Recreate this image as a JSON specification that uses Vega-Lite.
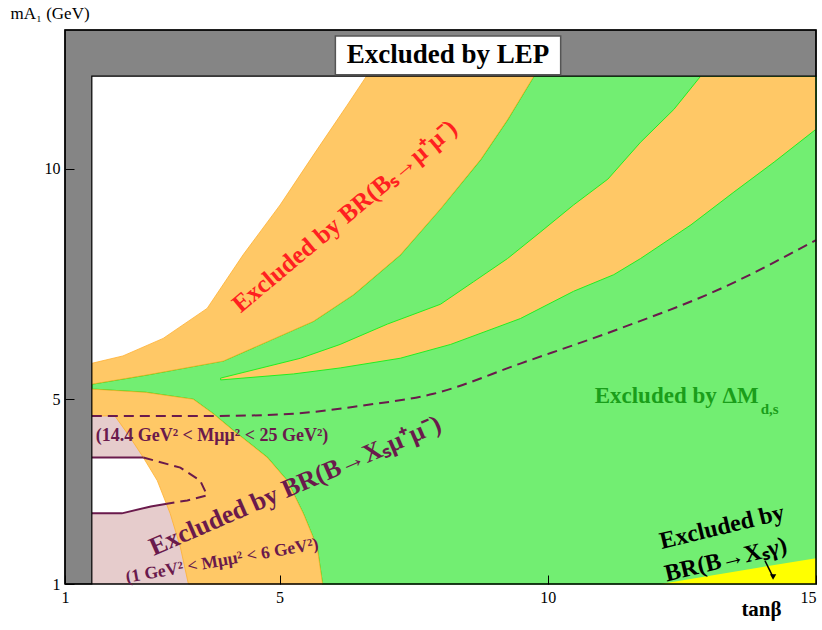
{
  "$schema": "https://vega.github.io/schema/vega-lite/v6.json",
  "width": 751,
  "height": 554,
  "autosize": {"type": "none"},
  "padding": {"left": 65, "top": 30, "right": 6, "bottom": 46},
  "background": "white",
  "datasets": {
    "poly": [
      {"r": "green", "i": 0, "x": 1.5, "y": 5.33},
      {"r": "green", "i": 1, "x": 2.53, "y": 5.53},
      {"r": "green", "i": 2, "x": 3.95, "y": 5.83},
      {"r": "green", "i": 3, "x": 5.63, "y": 6.69},
      {"r": "green", "i": 4, "x": 6.38, "y": 7.27},
      {"r": "green", "i": 5, "x": 7.25, "y": 8.13},
      {"r": "green", "i": 6, "x": 8.0, "y": 9.13},
      {"r": "green", "i": 7, "x": 8.75, "y": 10.2},
      {"r": "green", "i": 8, "x": 9.25, "y": 11.06},
      {"r": "green", "i": 9, "x": 9.74, "y": 12},
      {"r": "green", "i": 10, "x": 15, "y": 12},
      {"r": "green", "i": 11, "x": 15, "y": 1},
      {"r": "green", "i": 12, "x": 5.8, "y": 1},
      {"r": "green", "i": 13, "x": 5.7, "y": 1.8},
      {"r": "green", "i": 14, "x": 5.44, "y": 2.53},
      {"r": "green", "i": 15, "x": 5.14, "y": 3.24},
      {"r": "green", "i": 16, "x": 4.77, "y": 3.74},
      {"r": "green", "i": 17, "x": 4.14, "y": 4.32},
      {"r": "green", "i": 18, "x": 3.76, "y": 4.69},
      {"r": "green", "i": 19, "x": 3.39, "y": 5.0},
      {"r": "green", "i": 20, "x": 2.5, "y": 5.15},
      {"r": "green", "i": 21, "x": 1.5, "y": 5.22},
      {"r": "green", "i": 22, "x": 1.5, "y": 5.33},

      {"r": "pink", "i": 0, "x": 1.5, "y": 1},
      {"r": "pink", "i": 1, "x": 3.4, "y": 1},
      {"r": "pink", "i": 2, "x": 3.4, "y": 4.64},
      {"r": "pink", "i": 3, "x": 1.5, "y": 4.64},
      {"r": "pink", "i": 4, "x": 1.5, "y": 1},

      {"r": "hole", "i": 0, "x": 1.5, "y": 3.74},
      {"r": "hole", "i": 1, "x": 2.6, "y": 3.74},
      {"r": "hole", "i": 2, "x": 2.9, "y": 2.74},
      {"r": "hole", "i": 3, "x": 2.6, "y": 2.68},
      {"r": "hole", "i": 4, "x": 2.06, "y": 2.53},
      {"r": "hole", "i": 5, "x": 1.5, "y": 2.53},
      {"r": "hole", "i": 6, "x": 1.5, "y": 3.74},

      {"r": "orange3", "i": 0, "x": 1.5, "y": 5.22},
      {"r": "orange3", "i": 1, "x": 2.5, "y": 5.15},
      {"r": "orange3", "i": 2, "x": 3.39, "y": 5.0},
      {"r": "orange3", "i": 3, "x": 3.76, "y": 4.69},
      {"r": "orange3", "i": 4, "x": 4.14, "y": 4.32},
      {"r": "orange3", "i": 5, "x": 4.77, "y": 3.74},
      {"r": "orange3", "i": 6, "x": 5.14, "y": 3.24},
      {"r": "orange3", "i": 7, "x": 5.44, "y": 2.53},
      {"r": "orange3", "i": 8, "x": 5.7, "y": 1.8},
      {"r": "orange3", "i": 9, "x": 5.8, "y": 1},
      {"r": "orange3", "i": 10, "x": 3.3, "y": 1},
      {"r": "orange3", "i": 11, "x": 3.15, "y": 1.8},
      {"r": "orange3", "i": 12, "x": 2.96, "y": 2.53},
      {"r": "orange3", "i": 13, "x": 2.72, "y": 3.24},
      {"r": "orange3", "i": 14, "x": 2.46, "y": 3.74},
      {"r": "orange3", "i": 15, "x": 2.2, "y": 4.2},
      {"r": "orange3", "i": 16, "x": 1.93, "y": 4.64},
      {"r": "orange3", "i": 17, "x": 1.5, "y": 4.64},
      {"r": "orange3", "i": 18, "x": 1.5, "y": 5.22},

      {"r": "orange1", "i": 0, "x": 1.5, "y": 5.78},
      {"r": "orange1", "i": 1, "x": 2.08, "y": 5.94},
      {"r": "orange1", "i": 2, "x": 2.83, "y": 6.32},
      {"r": "orange1", "i": 3, "x": 3.65, "y": 6.97},
      {"r": "orange1", "i": 4, "x": 4.32, "y": 8.13},
      {"r": "orange1", "i": 5, "x": 5.01, "y": 9.21},
      {"r": "orange1", "i": 6, "x": 5.63, "y": 10.29},
      {"r": "orange1", "i": 7, "x": 6.26, "y": 11.37},
      {"r": "orange1", "i": 8, "x": 6.62, "y": 12},
      {"r": "orange1", "i": 9, "x": 9.74, "y": 12},
      {"r": "orange1", "i": 10, "x": 9.25, "y": 11.06},
      {"r": "orange1", "i": 11, "x": 8.75, "y": 10.2},
      {"r": "orange1", "i": 12, "x": 8.0, "y": 9.13},
      {"r": "orange1", "i": 13, "x": 7.25, "y": 8.13},
      {"r": "orange1", "i": 14, "x": 6.38, "y": 7.27},
      {"r": "orange1", "i": 15, "x": 5.63, "y": 6.69},
      {"r": "orange1", "i": 16, "x": 3.95, "y": 5.83},
      {"r": "orange1", "i": 17, "x": 2.53, "y": 5.53},
      {"r": "orange1", "i": 18, "x": 1.5, "y": 5.33},
      {"r": "orange1", "i": 19, "x": 1.5, "y": 5.78},

      {"r": "orange2", "i": 0, "x": 3.9, "y": 5.46},
      {"r": "orange2", "i": 1, "x": 5.39, "y": 5.89},
      {"r": "orange2", "i": 2, "x": 6.13, "y": 6.19},
      {"r": "orange2", "i": 3, "x": 7.01, "y": 6.63},
      {"r": "orange2", "i": 4, "x": 8.0, "y": 7.06},
      {"r": "orange2", "i": 5, "x": 8.62, "y": 7.55},
      {"r": "orange2", "i": 6, "x": 9.25, "y": 8.05},
      {"r": "orange2", "i": 7, "x": 9.87, "y": 8.63},
      {"r": "orange2", "i": 8, "x": 10.48, "y": 9.21},
      {"r": "orange2", "i": 9, "x": 11.12, "y": 9.77},
      {"r": "orange2", "i": 10, "x": 11.73, "y": 10.57},
      {"r": "orange2", "i": 11, "x": 12.35, "y": 11.28},
      {"r": "orange2", "i": 12, "x": 12.85, "y": 12},
      {"r": "orange2", "i": 13, "x": 15, "y": 12},
      {"r": "orange2", "i": 14, "x": 15, "y": 10.85},
      {"r": "orange2", "i": 15, "x": 14.22, "y": 10.14},
      {"r": "orange2", "i": 16, "x": 13.47, "y": 9.49},
      {"r": "orange2", "i": 17, "x": 12.67, "y": 8.78},
      {"r": "orange2", "i": 18, "x": 11.73, "y": 8.05},
      {"r": "orange2", "i": 19, "x": 11.23, "y": 7.7},
      {"r": "orange2", "i": 20, "x": 10.48, "y": 7.34},
      {"r": "orange2", "i": 21, "x": 9.49, "y": 6.75},
      {"r": "orange2", "i": 22, "x": 8.19, "y": 6.19},
      {"r": "orange2", "i": 23, "x": 7.25, "y": 5.89},
      {"r": "orange2", "i": 24, "x": 6.13, "y": 5.68},
      {"r": "orange2", "i": 25, "x": 5.26, "y": 5.55},
      {"r": "orange2", "i": 26, "x": 3.9, "y": 5.42},
      {"r": "orange2", "i": 27, "x": 3.9, "y": 5.46},

      {"r": "yellow", "i": 0, "x": 12.1, "y": 1},
      {"r": "yellow", "i": 1, "x": 15, "y": 1},
      {"r": "yellow", "i": 2, "x": 15, "y": 1.56},
      {"r": "yellow", "i": 3, "x": 12.1, "y": 1},

      {"r": "lep", "i": 0, "x": 1, "y": 1},
      {"r": "lep", "i": 1, "x": 1, "y": 13},
      {"r": "lep", "i": 2, "x": 15, "y": 13},
      {"r": "lep", "i": 3, "x": 15, "y": 12},
      {"r": "lep", "i": 4, "x": 1.5, "y": 12},
      {"r": "lep", "i": 5, "x": 1.5, "y": 1},
      {"r": "lep", "i": 6, "x": 1, "y": 1}
    ],
    "lines": [
      {"r": "dash", "i": 0, "x": 1.5, "y": 4.64},
      {"r": "dash", "i": 1, "x": 3.8, "y": 4.64},
      {"r": "dash", "i": 2, "x": 5.26, "y": 4.69},
      {"r": "dash", "i": 3, "x": 6.51, "y": 4.86},
      {"r": "dash", "i": 4, "x": 7.87, "y": 5.12},
      {"r": "dash", "i": 5, "x": 9.5, "y": 5.78},
      {"r": "dash", "i": 6, "x": 11.36, "y": 6.54},
      {"r": "dash", "i": 7, "x": 13.23, "y": 7.4},
      {"r": "dash", "i": 8, "x": 15, "y": 8.45},

      {"r": "holedash", "i": 0, "x": 2.46, "y": 3.74},
      {"r": "holedash", "i": 1, "x": 3.15, "y": 3.52},
      {"r": "holedash", "i": 2, "x": 3.52, "y": 3.24},
      {"r": "holedash", "i": 3, "x": 3.65, "y": 2.92},
      {"r": "holedash", "i": 4, "x": 3.28, "y": 2.81},
      {"r": "holedash", "i": 5, "x": 2.9, "y": 2.74},

      {"r": "holetop", "i": 0, "x": 1.5, "y": 3.74},
      {"r": "holetop", "i": 1, "x": 2.46, "y": 3.74},

      {"r": "holebot", "i": 0, "x": 2.9, "y": 2.74},
      {"r": "holebot", "i": 1, "x": 2.6, "y": 2.68},
      {"r": "holebot", "i": 2, "x": 2.06, "y": 2.53},
      {"r": "holebot", "i": 3, "x": 1.5, "y": 2.53},

      {"r": "arrow", "i": 0, "x": 14.05, "y": 1.5},
      {"r": "arrow", "i": 1, "x": 14.2, "y": 1.15}
    ]
  },
  "encoding": {
    "x": {
      "field": "x", "type": "quantitative",
      "scale": {"domain": [1, 15], "nice": false, "zero": false},
      "axis": {
        "values": [1, 5, 10, 15], "grid": false, "domain": false, "zindex": 1,
        "labelFlush": false, "labelFont": "Liberation Serif", "labelFontSize": 16,
        "labelAlign": {"expr": "datum.value == 15 ? 'right' : 'center'"},
        "labelColor": "black", "tickColor": "black", "tickSize": -9, "labelPadding": 14,
        "title": "tanβ", "titleFont": "Liberation Serif", "titleFontSize": 21,
        "titleFontWeight": "bold", "titleColor": "black",
        "titleX": 696, "titleY": 31, "titleBaseline": "alphabetic"
      }
    },
    "y": {
      "field": "y", "type": "quantitative",
      "scale": {"domain": [1, 13], "nice": false, "zero": false},
      "axis": {
        "values": [1, 5, 10], "grid": false, "domain": false, "zindex": 1,
        "labelFont": "Liberation Serif", "labelFontSize": 16,
        "labelColor": "black", "tickColor": "black", "tickSize": -9, "labelPadding": 14,
        "title": "mA₁ (GeV)", "titleFont": "Liberation Serif", "titleFontSize": 17,
        "titleFontWeight": "normal", "titleColor": "black", "titleAngle": 0,
        "titleAlign": "left", "titleBaseline": "alphabetic", "titleX": -55, "titleY": -12
      }
    }
  },
  "layer": [
    {
      "data": {"name": "poly"},
      "transform": [{"filter": "datum.r == 'green'"}],
      "mark": {"type": "line", "fill": "#72ee72", "stroke": "#11dd11", "strokeWidth": 1.2},
      "encoding": {"order": {"field": "i"}}
    },
    {
      "data": {"name": "poly"},
      "transform": [{"filter": "datum.r == 'pink'"}],
      "mark": {"type": "line", "fill": "#e6cccc", "strokeWidth": 0},
      "encoding": {"order": {"field": "i"}}
    },
    {
      "data": {"name": "poly"},
      "transform": [{"filter": "datum.r == 'hole'"}],
      "mark": {"type": "line", "fill": "white", "strokeWidth": 0},
      "encoding": {"order": {"field": "i"}}
    },
    {
      "data": {"name": "poly"},
      "transform": [{"filter": "datum.r == 'orange3'"}],
      "mark": {"type": "line", "fill": "#ffc866", "stroke": "#ffb030", "strokeWidth": 0.8},
      "encoding": {"order": {"field": "i"}}
    },
    {
      "data": {"name": "poly"},
      "transform": [{"filter": "datum.r == 'orange1'"}],
      "mark": {"type": "line", "fill": "#ffc866", "stroke": "#ffb030", "strokeWidth": 0.8},
      "encoding": {"order": {"field": "i"}}
    },
    {
      "data": {"name": "poly"},
      "transform": [{"filter": "datum.r == 'orange2'"}],
      "mark": {"type": "line", "fill": "#ffc866", "stroke": "#22ee22", "strokeWidth": 1},
      "encoding": {"order": {"field": "i"}}
    },
    {
      "data": {"name": "poly"},
      "transform": [{"filter": "datum.r == 'yellow'"}],
      "mark": {"type": "line", "fill": "#ffff00", "strokeWidth": 0},
      "encoding": {"order": {"field": "i"}}
    },
    {
      "data": {"name": "lines"},
      "transform": [{"filter": "datum.r == 'dash'"}],
      "mark": {"type": "line", "color": "#6a1a4c", "strokeWidth": 2, "strokeDash": [10, 6], "interpolate": "monotone"},
      "encoding": {"order": {"field": "i"}}
    },
    {
      "data": {"name": "lines"},
      "transform": [{"filter": "datum.r == 'holedash'"}],
      "mark": {"type": "line", "color": "#6a1a4c", "strokeWidth": 2, "strokeDash": [10, 6]},
      "encoding": {"order": {"field": "i"}}
    },
    {
      "data": {"name": "lines"},
      "transform": [{"filter": "datum.r == 'holetop' || datum.r == 'holebot'"}],
      "mark": {"type": "line", "color": "#6a1a4c", "strokeWidth": 2},
      "encoding": {"order": {"field": "i"}, "detail": {"field": "r"}}
    },
    {
      "data": {"name": "poly"},
      "transform": [{"filter": "datum.r == 'lep'"}],
      "mark": {"type": "line", "fill": "#858585", "stroke": "black", "strokeWidth": 1.2},
      "encoding": {"order": {"field": "i"}}
    },
    {
      "data": {"values": [{"x": 6.04, "x2": 10.24, "y": 12.03, "y2": 12.87}]},
      "mark": {"type": "rect", "fill": "white", "stroke": "#555555", "strokeWidth": 1.5},
      "encoding": {"x2": {"field": "x2"}, "y2": {"field": "y2"}}
    },
    {
      "data": {"values": [{"x": 1, "x2": 15, "y": 1, "y2": 13}]},
      "mark": {"type": "rect", "fill": null, "fillOpacity": 0, "stroke": "black", "strokeWidth": 1.5},
      "encoding": {"x2": {"field": "x2"}, "y2": {"field": "y2"}}
    },
    {
      "data": {"values": [{"x": 8.14, "y": 12.45, "t": "Excluded by LEP"}]},
      "mark": {"type": "text", "font": "Liberation Serif", "fontSize": 27, "fontWeight": "bold", "color": "black", "align": "center", "baseline": "middle"},
      "encoding": {"text": {"field": "t"}}
    },
    {
      "data": {"values": [{"x": 6.21, "y": 8.97, "t": "Excluded by BR(Bₛ→μ⁺μ⁻)"}]},
      "mark": {"type": "text", "font": "Liberation Serif", "fontSize": 25, "fontWeight": "bold", "color": "#ff2020", "align": "center", "baseline": "middle", "angle": -40},
      "encoding": {"text": {"field": "t"}}
    },
    {
      "data": {"values": [{"x": 5.29, "y": 3.13, "t": "Excluded by BR(B→Xₛμ⁺μ⁻)"}]},
      "mark": {"type": "text", "font": "Liberation Serif", "fontSize": 26, "fontWeight": "bold", "color": "#6a1a4c", "align": "center", "baseline": "middle", "angle": -23.5},
      "encoding": {"text": {"field": "t"}}
    },
    {
      "data": {"values": [{"x": 3.74, "y": 4.2, "t": "(14.4 GeV² < Mμμ² < 25 GeV²)"}]},
      "mark": {"type": "text", "font": "Liberation Serif", "fontSize": 18, "fontWeight": "bold", "color": "#6a1a4c", "align": "center", "baseline": "middle"},
      "encoding": {"text": {"field": "t"}}
    },
    {
      "data": {"values": [{"x": 3.93, "y": 1.5, "t": "(1 GeV² < Mμμ² < 6 GeV²)"}]},
      "mark": {"type": "text", "font": "Liberation Serif", "fontSize": 17.5, "fontWeight": "bold", "color": "#6a1a4c", "align": "center", "baseline": "middle", "angle": -10},
      "encoding": {"text": {"field": "t"}}
    },
    {
      "data": {"values": [{"x": 13.93, "y": 5.07, "t": "Excluded by ΔM"}]},
      "mark": {"type": "text", "font": "Liberation Serif", "fontSize": 23, "fontWeight": "bold", "color": "#1a9e1a", "align": "right", "baseline": "middle"},
      "encoding": {"text": {"field": "t"}}
    },
    {
      "data": {"values": [{"x": 13.97, "y": 4.8, "t": "d,s"}]},
      "mark": {"type": "text", "font": "Liberation Serif", "fontSize": 15, "fontWeight": "bold", "color": "#1a9e1a", "align": "left", "baseline": "middle"},
      "encoding": {"text": {"field": "t"}}
    },
    {
      "data": {"values": [{"x": 13.25, "y": 2.23, "t": "Excluded by"}, {"x": 13.32, "y": 1.52, "t": "BR(B→Xₛγ)"}]},
      "mark": {"type": "text", "font": "Liberation Serif", "fontSize": 24, "fontWeight": "bold", "color": "black", "align": "center", "baseline": "middle", "angle": -13.5},
      "encoding": {"text": {"field": "t"}}
    },
    {
      "data": {"name": "lines"},
      "transform": [{"filter": "datum.r == 'arrow'"}],
      "mark": {"type": "line", "color": "black", "strokeWidth": 1.5},
      "encoding": {"order": {"field": "i"}}
    },
    {
      "data": {"name": "lines"},
      "transform": [{"filter": "datum.r == 'arrow' && datum.i == 1"}],
      "mark": {"type": "point", "shape": "triangle-down", "filled": true, "color": "black", "size": 40, "opacity": 1},
      "encoding": {}
    }
  ],
  "config": {
    "view": {"stroke": null},
    "font": "Liberation Serif"
  }
}
